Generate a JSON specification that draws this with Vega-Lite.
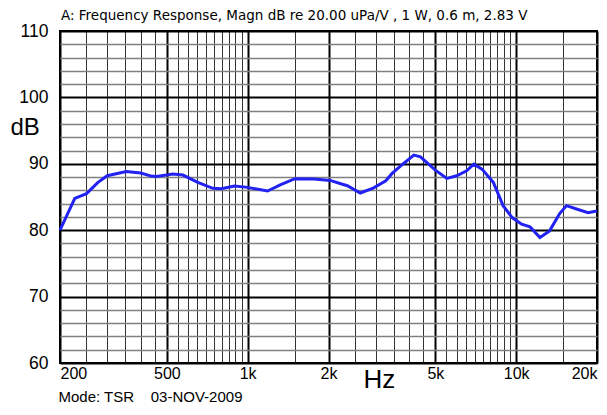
{
  "$schema": "https://vega.github.io/schema/vega-lite/v6.json",
  "width": 537,
  "height": 332,
  "autosize": "none",
  "padding": {"left": 60, "top": 31, "right": 10, "bottom": 52},
  "background": "white",
  "config": {
    "view": {"stroke": "black", "strokeWidth": 2},
    "font": "Liberation Sans"
  },
  "title": {
    "text": "A: Frequency Response, Magn dB re 20.00 uPa/V , 1 W, 0.6 m, 2.83 V",
    "anchor": "start",
    "frame": "group",
    "dx": 1,
    "offset": 0,
    "font": "DejaVu Sans",
    "fontSize": 13.5,
    "fontWeight": "normal",
    "color": "black"
  },
  "data": {
    "values": [
      {"f": 200, "db": 80.0},
      {"f": 227, "db": 84.8},
      {"f": 251, "db": 85.5},
      {"f": 277, "db": 87.2},
      {"f": 300, "db": 88.2},
      {"f": 353, "db": 88.85},
      {"f": 400, "db": 88.6},
      {"f": 437, "db": 88.15},
      {"f": 457, "db": 88.1},
      {"f": 527, "db": 88.45},
      {"f": 574, "db": 88.3},
      {"f": 652, "db": 87.2},
      {"f": 742, "db": 86.3},
      {"f": 797, "db": 86.25},
      {"f": 892, "db": 86.65},
      {"f": 1000, "db": 86.45},
      {"f": 1186, "db": 85.9},
      {"f": 1328, "db": 86.85},
      {"f": 1500, "db": 87.75},
      {"f": 1768, "db": 87.7},
      {"f": 2030, "db": 87.5},
      {"f": 2221, "db": 87.0},
      {"f": 2352, "db": 86.7},
      {"f": 2626, "db": 85.6},
      {"f": 2935, "db": 86.35},
      {"f": 3269, "db": 87.45},
      {"f": 3452, "db": 88.55},
      {"f": 3770, "db": 89.9},
      {"f": 4158, "db": 91.3},
      {"f": 4400, "db": 91.05},
      {"f": 5000, "db": 89.05},
      {"f": 5520, "db": 87.8},
      {"f": 6006, "db": 88.2},
      {"f": 6540, "db": 88.95},
      {"f": 6954, "db": 89.95},
      {"f": 7460, "db": 89.2},
      {"f": 8220, "db": 87.2},
      {"f": 8940, "db": 83.7},
      {"f": 9660, "db": 81.9},
      {"f": 10480, "db": 80.9},
      {"f": 11260, "db": 80.5},
      {"f": 12260, "db": 78.9},
      {"f": 13320, "db": 79.9},
      {"f": 14520, "db": 82.5},
      {"f": 15400, "db": 83.7},
      {"f": 16780, "db": 83.2},
      {"f": 18520, "db": 82.65},
      {"f": 20000, "db": 82.9}
    ]
  },
  "encoding": {
    "y": {
      "field": "db",
      "type": "quantitative",
      "scale": {"domain": [60, 110], "nice": false, "zero": false},
      "axis": {
        "values": [60,62,64,66,68,70,72,74,76,78,80,82,84,86,88,90,92,94,96,98,100,102,104,106,108,110],
        "labelExpr": "datum.value % 10 === 0 ? datum.label : ''",
        "labelFontSize": 17.5,
        "labelColor": "black",
        "labelPadding": 12,
        "labelOverlap": false,
        "labelBound": false,
        "ticks": false,
        "tickSize": 0,
        "domain": false,
        "grid": true,
        "gridColor": {"condition": {"test": "datum.value % 10 === 0", "value": "black"}, "value": "#808080"},
        "gridWidth": {"condition": {"test": "datum.value % 10 === 0", "value": 2}, "value": 1.5},
        "gridOpacity": 1,
        "title": "dB",
        "titleAngle": 0,
        "titleFontSize": 24,
        "titleFontWeight": "normal",
        "titleColor": "black",
        "titleAlign": "left",
        "titleAnchor": null,
        "titleBaseline": "middle",
        "titleX": -50,
        "titleY": 96
      }
    }
  },
  "layer": [
    {
      "mark": {"type": "line", "color": "#2222f2", "strokeWidth": 3},
      "encoding": {
        "x": {
          "field": "f",
          "type": "quantitative",
          "scale": {"type": "log", "domain": [200, 20000], "nice": false},
          "axis": {
            "orient": "bottom",
            "values": [200,250,300,350,400,450,500,550,600,650,700,750,800,850,900,950,1000,1500,2000,2500,3000,3500,4000,4500,5000,5500,6000,6500,7000,7500,8000,8500,9000,9500,10000,15000,20000],
            "labelExpr": "indexof([200,500,1000,2000,5000,10000,20000], datum.value) >= 0 ? (datum.value >= 1000 ? (datum.value/1000) + 'k' : '' + datum.value) : ''",
            "labelFlush": true,
            "labelOverlap": false,
            "labelBound": false,
            "labelFontSize": 16,
            "labelColor": "black",
            "labelPadding": 2,
            "ticks": false,
            "tickSize": 0,
            "domain": false,
            "grid": true,
            "gridColor": {"condition": {"test": "indexof([200,500,1000,2000,5000,10000,20000], datum.value) >= 0", "value": "black"}, "value": "#333333"},
            "gridWidth": {"condition": {"test": "indexof([200,500,1000,2000,5000,10000,20000], datum.value) >= 0", "value": 2}, "value": 1},
            "gridOpacity": 1,
            "title": "Hz",
            "titleFontSize": 26,
            "titleFontWeight": "normal",
            "titleColor": "black",
            "titleAlign": "left",
            "titleAnchor": null,
            "titleBaseline": "alphabetic",
            "titleX": 303,
            "titleY": 24
          }
        }
      }
    },
    {
      "mark": {"type": "line", "opacity": 0},
      "encoding": {
        "x": {
          "field": "f",
          "type": "quantitative",
          "axis": {
            "orient": "bottom",
            "labels": false,
            "ticks": false,
            "domain": false,
            "grid": false,
            "title": "Mode: TSR\u00a0\u00a0\u00a0\u00a003-NOV-2009",
            "titleFontSize": 15,
            "titleFontWeight": "normal",
            "titleColor": "black",
            "titleAlign": "left",
            "titleAnchor": null,
            "titleBaseline": "alphabetic",
            "titleX": -2,
            "titleY": 38
          }
        }
      }
    }
  ],
  "resolve": {"axis": {"x": "independent"}}
}
